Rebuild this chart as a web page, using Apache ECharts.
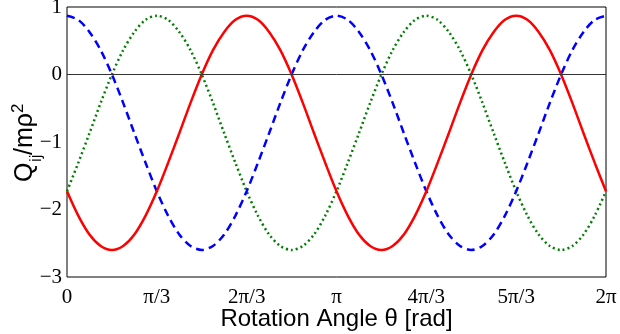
<!DOCTYPE html>
<html>
<head>
<meta charset="utf-8">
<script src="https://cdn.jsdelivr.net/npm/echarts@6/dist/echarts.min.js"></script>
<style>html,body{margin:0;padding:0;background:#fff}#c{width:620px;height:334px}</style>
</head>
<body>
<div id="c"></div>
<script>
// x axis in units of pi/3; samples every pi/24
var xTickLabels = ['0', 'π/3', '2π/3', 'π', '4π/3', '5π/3', '2π'];
var yTicks = [1, 0, -1, -2, -3];
var sampleStep = 1 / 8; // pi/24 expressed in units of pi/3

var redSolid = [-1.73,-2.09,-2.37,-2.54,-2.6,-2.54,-2.37,-2.09,-1.73,-1.31,-0.87,-0.42,0,0.36,0.63,0.81,0.87,0.81,0.63,0.36,0,-0.42,-0.87,-1.31,
                -1.73,-2.09,-2.37,-2.54,-2.6,-2.54,-2.37,-2.09,-1.73,-1.31,-0.87,-0.42,0,0.36,0.63,0.81,0.87,0.81,0.63,0.36,0,-0.42,-0.87,-1.31,-1.73];
var blueDashed = [0.87,0.81,0.63,0.36,0,-0.42,-0.87,-1.31,-1.73,-2.09,-2.37,-2.54,-2.6,-2.54,-2.37,-2.09,-1.73,-1.31,-0.87,-0.42,0,0.36,0.63,0.81,
                  0.87,0.81,0.63,0.36,0,-0.42,-0.87,-1.31,-1.73,-2.09,-2.37,-2.54,-2.6,-2.54,-2.37,-2.09,-1.73,-1.31,-0.87,-0.42,0,0.36,0.63,0.81,0.87];
var greenDotted = [-1.73,-1.31,-0.87,-0.42,0,0.36,0.63,0.81,0.87,0.81,0.63,0.36,0,-0.42,-0.87,-1.31,-1.73,-2.09,-2.37,-2.54,-2.6,-2.54,-2.37,-2.09,
                   -1.73,-1.31,-0.87,-0.42,0,0.36,0.63,0.81,0.87,0.81,0.63,0.36,0,-0.42,-0.87,-1.31,-1.73,-2.09,-2.37,-2.54,-2.6,-2.54,-2.37,-2.09,-1.73];

function pairs(arr) {
  return arr.map(function (v, i) { return [i * sampleStep, v]; });
}

var chart = echarts.init(document.getElementById('c'), null, {renderer: 'canvas'});
var serifFont = '"Liberation Serif", "Times New Roman", serif';
var sansFont = '"Liberation Sans", Arial, sans-serif';

chart.setOption({
  animation: false,
  backgroundColor: '#fff',
  grid: {left: 67, right: 14, top: 7, bottom: 57, show: true, borderColor: '#000', borderWidth: 1,
         backgroundColor: 'transparent', containLabel: false, outerBoundsMode: 'none'},
  xAxis: {
    type: 'value', min: 0, max: 6, interval: 1,
    axisLine: {show: false}, axisTick: {show: false}, splitLine: {show: false},
    axisLabel: {
      color: '#000', fontFamily: serifFont, fontSize: 21, margin: 10,
      formatter: function (v) { return xTickLabels[Math.round(v)]; }
    },
    name: 'Rotation Angle θ [rad]', nameLocation: 'middle', nameGap: 30, nameMoveOverlap: false,
    nameTextStyle: {color: '#000', fontFamily: sansFont, fontSize: 24}
  },
  yAxis: {
    type: 'value', min: -3, max: 1, interval: 1,
    axisLine: {show: false}, axisTick: {show: false}, splitLine: {show: false},
    axisLabel: {
      color: '#000', fontFamily: serifFont, fontSize: 21, margin: 5,
      formatter: function (v) { return String(v).replace('-', '−'); }
    }
  },
  graphic: [{
    type: 'group', x: 33, y: 142, rotation: Math.PI / 2,
    children: [
      {type: 'text', x: -40, y: 5, style: {text: 'Q', font: '25px ' + sansFont, fill: '#000', verticalAlign: 'bottom', align: 'left'}},
      {type: 'text', x: -20, y: 12, style: {text: 'ij', font: '17px ' + sansFont, fill: '#000', verticalAlign: 'bottom', align: 'left'}},
      {type: 'text', x: -13, y: 5, style: {text: '/mρ', font: '25px ' + sansFont, fill: '#000', verticalAlign: 'bottom', align: 'left'}},
      {type: 'text', x: 29, y: -6, style: {text: '2', font: '17px ' + sansFont, fill: '#000', verticalAlign: 'bottom', align: 'left'}}
    ]
  }],
  series: [
    {
      type: 'line', data: pairs(greenDotted), showSymbol: false, smooth: 0.3,
      lineStyle: {color: '#008000', width: 2.5, type: [2, 3]},
      markLine: {
        silent: true, symbol: 'none', label: {show: false},
        lineStyle: {color: '#333', width: 1, type: 'solid'},
        data: [{yAxis: 0}]
      }
    },
    {
      type: 'line', data: pairs(blueDashed), showSymbol: false, smooth: 0.3,
      lineStyle: {color: '#0000ff', width: 2.5, type: [8, 5]}
    },
    {
      type: 'line', data: pairs(redSolid), showSymbol: false, smooth: 0.3,
      lineStyle: {color: '#ff0000', width: 2.5, type: 'solid'}
    }
  ]
});
</script>
</body>
</html>
